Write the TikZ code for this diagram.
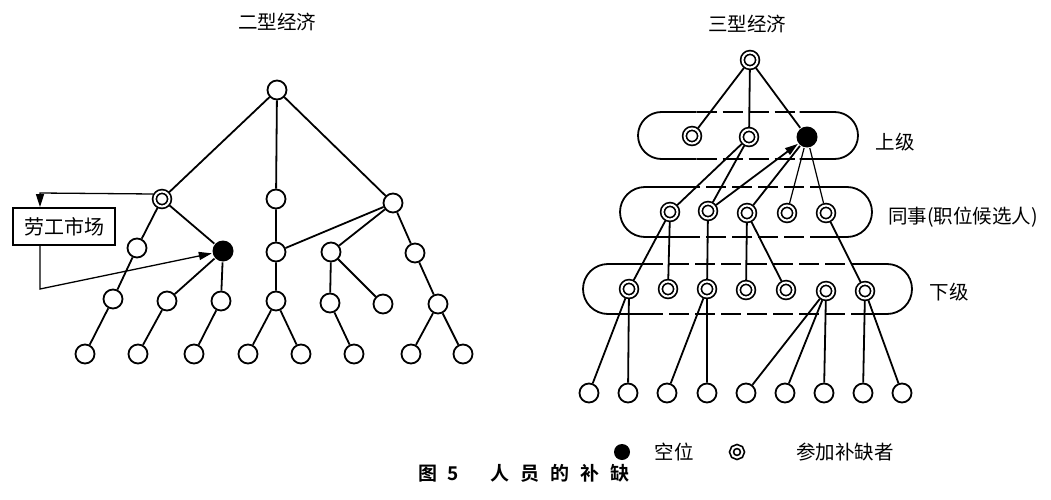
\documentclass[tikz,border=0pt]{standalone}
\usepackage{fontspec}
\setmainfont{Noto Sans CJK SC}[BoldFont={Noto Sans CJK SC Bold}]
\usetikzlibrary{arrows.meta,positioning}

% rounded band: left x, right x, centre y, radius
\newcommand\band[4]{%
  \draw ({#1+#4+35},{#3-#4}) -- ({#1+#4},{#3-#4}) arc (270:90:#4) -- ({#1+#4+35},{#3+#4});
  \draw ({#2-#4-35},{#3-#4}) -- ({#2-#4},{#3-#4}) arc (-90:90:#4) -- ({#2-#4-35},{#3+#4});
  \draw[dash pattern=on 20pt off 6pt] ({#1+#4+35},{#3-#4}) -- ({#2-#4-35},{#3-#4});
  \draw[dash pattern=on 20pt off 6pt] ({#1+#4+35},{#3+#4}) -- ({#2-#4-35},{#3+#4});
}

\begin{document}
\begin{tikzpicture}[x=1pt,y=-1pt,line width=1.8pt,
  job/.style={circle,draw,fill=white,minimum size=19pt,inner sep=0pt,line width=1.8pt},
  cand/.style={circle,draw,fill=white,double,double distance=2pt,line width=1.7pt,
    minimum size=15pt,inner sep=0pt,outer sep=2.5pt},
  vac/.style={circle,fill=black,minimum size=21pt,inner sep=0pt},
  lbl/.style={font=\fontsize{19.5}{22}\selectfont},
  arr/.style={-{Triangle[length=13pt,width=8pt]}}]
  \useasboundingbox (0,0) rectangle (1051,500);

  % left: type two
  \node[lbl] (t2) at (277,22) {二型经济};
  \node[job] (r0) at (277,90) {};
  \node[cand] (a1) at (162,199) {};
  \node[job] (a2) at (276,199) {};
  \node[job] (a3) at (393,203) {};
  \node[job] (b1) at (137,248) {};
  \node[vac] (bk) at (223,251) {};
  \node[job] (b3) at (276,252) {};
  \node[job] (b4) at (331,252) {};
  \node[job] (b5) at (415,253) {};
  \node[job] (c1) at (113,299) {};
  \node[job] (c2) at (167,301) {};
  \node[job] (c3) at (221,301) {};
  \node[job] (c4) at (276,301) {};
  \node[job] (c5) at (330,303) {};
  \node[job] (c6) at (383,304) {};
  \node[job] (c7) at (438,304) {};
  \foreach \i/\x in {1/85,2/138,3/194,4/248,5/301,6/354,7/411,8/463}
    \node[job] (d\i) at (\x,354) {};

  \draw (r0) -- (a1) (r0) -- (a2) (r0) -- (a3);
  \draw (a1) -- (b1) (a1) -- (bk) (a2) -- (b3);
  \draw (a3) -- (b3) (a3) -- (b4) (a3) -- (b5);
  \draw (b1) -- (c1) (bk) -- (c2) (bk) -- (c3) (b3) -- (c4);
  \draw (b4) -- (c5) (b4) -- (c6) (b5) -- (c7);
  \draw (c1) -- (d1) (c2) -- (d2) (c3) -- (d3) (c4) -- (d4) (c4) -- (d5);
  \draw (c5) -- (d6) (c7) -- (d7) (c7) -- (d8);

  % labour market loop
  \node[draw,font=\fontsize{20}{22}\selectfont,minimum width=102pt,minimum height=37pt,
    inner sep=0pt] (lab) at (64,226.5) {劳工市场};
  \coordinate (m1) at (40,193);
  \coordinate (m2) at (40,289);
  \draw[arr,line width=1.3pt] (a1.150) -- (m1) -- (m1 |- lab.north);
  \draw[arr,line width=1.3pt] (m2 |- lab.south) -- (m2) -- (bk);

  % right: type three
  \node[lbl] (t3) at (747,24) {三型经济};
  \band{638}{858}{135.5}{23.5}
  \band{620}{872}{212}{25}
  \band{583}{912}{289}{25}
  \node[lbl] (up) at (895,142) {上级};
  \node[lbl,anchor=west] (peer) at (884,217) {同事(职位候选人)};
  \node[lbl] (low) at (949,292) {下级};

  \node[cand] (s0) at (750,60) {};
  \node[cand] (u1) at (692,136) {};
  \node[cand] (u2) at (749,137) {};
  \node[vac] (u3) at (807,137) {};
  \foreach \i/\x/\y in {1/670/212,2/708/211,3/747/213,4/787/213,5/826/213}
    \node[cand] (p\i) at (\x,\y) {};
  \foreach \i/\x/\y in {1/629/289,2/668/289,3/707/289,4/746/290,5/786/290,6/826/291,7/865/291}
    \node[cand] (q\i) at (\x,\y) {};
  \foreach \i/\x in {1/589,2/628,3/667,4/707,5/746,6/785,7/824,8/863,9/902}
    \node[job] (e\i) at (\x,393) {};

  \draw (s0) -- (u1) (s0) -- (u2) (s0) -- (u3);
  \draw (u2) -- (p1) (u2) -- (p2);
  \draw[arr] (p2) -- (u3);
  \draw (u3) -- (p3);
  \draw[line width=1.2pt] (u3) -- (p4) (u3) -- (p5);
  \draw (p1) -- (q1) (p1) -- (q2) (p2) -- (q3);
  \draw (p3) -- (q4) (p3) -- (q5) (p5) -- (q7);
  \draw (q1) -- (e1) (q1) -- (e2) (q3) -- (e3) (q3) -- (e4);
  \draw (q6) -- (e5) (q6) -- (e6) (q6) -- (e7) (q7) -- (e8) (q7) -- (e9);

  % legend and caption
  \node[vac,minimum size=16pt] (kv) at (622,452) {};
  \node[lbl] (kvt) at (674,452) {空位};
  \node[cand,minimum size=11pt] (kc) at (737,452) {};
  \node[lbl] (kct) at (845,452) {参加补缺者};
  \node[font=\fontsize{19}{22}\selectfont\bfseries] (cap) at (524,473)
    {图\hspace{10pt}5\hspace{32pt}人\hspace{11pt}员\hspace{11pt}的\hspace{11pt}补\hspace{11pt}缺};
\end{tikzpicture}
\end{document}
